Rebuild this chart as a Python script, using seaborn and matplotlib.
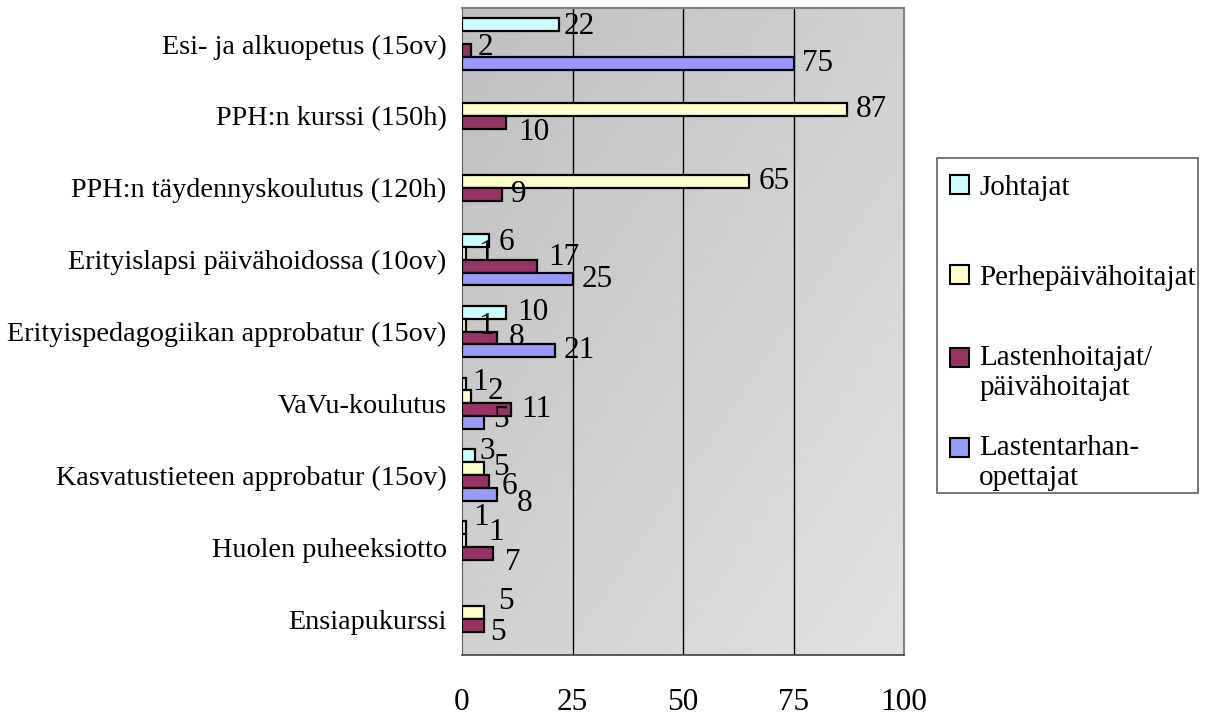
import numpy as np
import pandas as pd
import matplotlib
matplotlib.use("Agg")
import matplotlib.pyplot as plt
import seaborn as sns

categories = [
    "Esi- ja alkuopetus (15ov)",
    "PPH:n kurssi (150h)",
    "PPH:n täydennyskoulutus (120h)",
    "Erityislapsi päivähoidossa (10ov)",
    "Erityispedagogiikan approbatur (15ov)",
    "VaVu-koulutus",
    "Kasvatustieteen approbatur (15ov)",
    "Huolen puheeksiotto",
    "Ensiapukurssi",
]
series_names = ["Johtajat", "Perhepäivähoitajat",
                "Lastenhoitajat/\npäivähoitajat", "Lastentarhan-\nopettajat"]
johtajat = [22, np.nan, np.nan, 6, 10, 1, 3, 1, np.nan]
perhepaivahoitajat = [np.nan, 87, 65, 1, 1, 2, 5, 1, 5]
lastenhoitajat = [2, 10, 9, 17, 8, 11, 6, 7, 5]
lastentarhanopettajat = [75, np.nan, np.nan, 25, 21, 5, 8, np.nan, np.nan]
x_ticks = [0, 25, 50, 75, 100]

colors = ["#CCFFFF", "#FFFFCC", "#993366", "#9999FF"]

# style: data-label nudges (pixels right, pixels down) keyed by (category, series)
label_nudge = {
    (0, 0): (4, 2), (0, 2): (7, -3), (1, 2): (12, 10),
    (3, 0): (10, 2), (3, 1): (12, 0), (3, 2): (11, -9),
    (4, 0): (11, 0), (4, 1): (12, 1), (4, 2): (11, 0),
    (5, 0): (6, -1), (5, 1): (17, -5), (5, 2): (11, 0), (5, 3): (9, -3),
    (6, 0): (4, -4), (6, 1): (9, -1), (6, 2): (13, 5), (6, 3): (19, 9),
    (7, 0): (7, -10), (7, 1): (22, -8), (7, 2): (12, 9),
    (8, 1): (14, -11), (8, 2): (6, 7),
}
default_nudge = (9, 0)

rows = []
for name, vals in zip(series_names, [johtajat, perhepaivahoitajat, lastenhoitajat, lastentarhanopettajat]):
    for c, v in zip(categories, vals):
        rows.append({"Kurssi": c, "Ryhmä": name, "Arvo": v})
df = pd.DataFrame(rows)

sns.set_style("white")
plt.rcParams["font.family"] = ["Liberation Serif", "DejaVu Serif"]
plt.rcParams["text.color"] = "black"
plt.rcParams["xtick.color"] = "black"
plt.rcParams["ytick.color"] = "black"

W, H = 1213, 718
fig = plt.figure(figsize=(W / 100, H / 100), dpi=100)
ax = fig.add_axes([462/W, 1-655/H, (904-462)/W, (655-8)/H])

# gradient background of the plot area
grad = np.add.outer(np.linspace(0, 1, 200), np.linspace(0, 1, 200)) / 2
ax.imshow(grad, cmap=matplotlib.colors.LinearSegmentedColormap.from_list("g", ["#c0c0c0", "#e2e2e2"]),
          extent=[0, 1, 0, 1], transform=ax.transAxes, aspect="auto", zorder=0, origin="upper")

sns.barplot(data=df, y="Kurssi", x="Arvo", hue="Ryhmä", order=categories,
            hue_order=series_names, palette=colors, orient="h", width=0.72,
            edgecolor="black", linewidth=1.6, saturation=1, ax=ax, zorder=3)

px2pt = 72 / 100
for si, cont in enumerate(ax.containers):
    labels = [("%g" % v) if (v == v and v > 0) else "" for v in cont.datavalues]
    anns = ax.bar_label(cont, labels=labels, padding=6, fontsize=22.5, color="black", zorder=4)
    for bar, ann in zip(cont.patches, anns):
        ci = int(round(bar.get_y() + bar.get_height() / 2))
        dx, dy = label_nudge.get((ci, si), default_nudge)
        ann.xyann = (dx * px2pt, -dy * px2pt)

ax.set_xlim(0, 100)
ax.set_ylim(len(categories) - 0.5, -0.5)
ax.set_xticks(x_ticks)
ax.set_xticklabels([str(t) for t in x_ticks], fontsize=22.5, color="black")
ax.tick_params(axis="x", direction="out", length=10, width=1, pad=14, colors="black")
ax.tick_params(axis="y", length=0, pad=11, labelsize=20.3, labelcolor="black")
ax.set_xlabel("")
ax.set_ylabel("")
for t in x_ticks[1:-1]:
    ax.axvline(t, color="black", lw=1, zorder=1)
for s in ["top", "right"]:
    ax.spines[s].set_color("#808080")
    ax.spines[s].set_linewidth(1.5)
ax.spines["left"].set_color("#606060")
ax.spines["bottom"].set_color("#404040")
ax.spines["bottom"].set_linewidth(1.2)

ax.get_legend().remove()

# legend frame
frame = matplotlib.patches.Rectangle((937/W, 1-493/H), (1198-937)/W, (493-158)/H,
                                     transform=fig.transFigure, facecolor="white",
                                     edgecolor="#606060", lw=1.2, zorder=0)
fig.patches.append(frame)

# legend entries (one per series, placed like the original's evenly spaced slots)
entry_y = [188, 278, 373, 463]
for name, c, yy in zip(series_names, colors, entry_y):
    h = matplotlib.patches.Patch(facecolor=c, edgecolor="black", lw=1.5)
    lg = fig.legend([h], [name], loc="center left", bbox_to_anchor=(950/W, 1-yy/H),
                    frameon=False, fontsize=21, handlelength=0.65, handleheight=0.65,
                    handletextpad=0.35, borderpad=0, borderaxespad=0, labelcolor="black")
    if "\n" in name:
        hp = lg.legend_handles[0]
        hp.set_y(hp.get_y() + 11)

fig.savefig("out.png", dpi=100)
